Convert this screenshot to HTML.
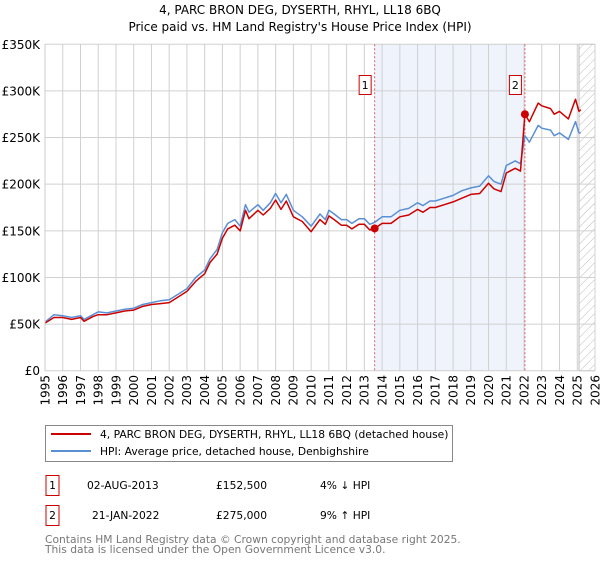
<!DOCTYPE html>
<html><head><meta charset="utf-8"><style>
body{margin:0;background:#fff;font-family:"DejaVu Sans","Liberation Sans",sans-serif;}
svg text{font-family:"DejaVu Sans","Liberation Sans",sans-serif;}
</style></head><body>
<svg id="chart" width="600" height="560" xmlns="http://www.w3.org/2000/svg">
<defs><pattern id="hatch" patternUnits="userSpaceOnUse" width="6" height="6" patternTransform="rotate(45)"><line x1="0" y1="0" x2="0" y2="6" stroke="#bbb" stroke-width="1"/></pattern></defs>
<text x="300" y="14" text-anchor="middle" font-size="12">4, PARC BRON DEG, DYSERTH, RHYL, LL18 6BQ</text>
<text x="300" y="31" text-anchor="middle" font-size="12">Price paid vs. HM Land Registry's House Price Index (HPI)</text>
<g id="grid"></g>
<g id="marks"></g>
<g id="legend">
<rect x="45.5" y="425.5" width="407" height="36" fill="#fff" stroke="#888"/>
<line x1="51" y1="434" x2="91" y2="434" stroke="#cc0000" stroke-width="2"/>
<text x="100" y="438" font-size="10.7">4, PARC BRON DEG, DYSERTH, RHYL, LL18 6BQ (detached house)</text>
<line x1="51" y1="451" x2="91" y2="451" stroke="#5b8fd4" stroke-width="2"/>
<text x="100" y="455" font-size="10.7">HPI: Average price, detached house, Denbighshire</text>
</g>
<g font-size="10.7">
<rect x="46" y="475.5" width="13" height="20" fill="none" stroke="#cc0000"/>
<text x="52.5" y="489" text-anchor="middle">1</text>
<text x="87" y="489">02-AUG-2013</text>
<text x="216" y="489">£152,500</text>
<text x="320" y="489">4% ↓ HPI</text>
</g>
<g font-size="10.7">
<rect x="46" y="505.5" width="13" height="20" fill="none" stroke="#cc0000"/>
<text x="52.5" y="519" text-anchor="middle">2</text>
<text x="92" y="519">21-JAN-2022</text>
<text x="216" y="519">£275,000</text>
<text x="320" y="519">9% ↑ HPI</text>
</g>
<text x="45" y="543" font-size="10.7" fill="#777">Contains HM Land Registry data © Crown copyright and database right 2025.</text>
<text x="45" y="553" font-size="10.7" fill="#777">This data is licensed under the Open Government Licence v3.0.</text>
</svg>
<script>
const years=[1995.0,1995.5,1996.0,1996.5,1997.0,1997.2,1997.7,1998.0,1998.5,1999.0,1999.5,2000.0,2000.5,2001.0,2001.5,2002.0,2002.5,2003.0,2003.5,2004.0,2004.3,2004.7,2005.0,2005.3,2005.7,2006.0,2006.3,2006.5,2007.0,2007.3,2007.7,2008.0,2008.3,2008.6,2009.0,2009.5,2010.0,2010.5,2010.8,2011.0,2011.3,2011.7,2012.0,2012.3,2012.7,2013.0,2013.3,2013.58,2014.0,2014.5,2015.0,2015.5,2016.0,2016.3,2016.7,2017.0,2017.5,2018.0,2018.5,2019.0,2019.5,2020.0,2020.3,2020.7,2021.0,2021.5,2021.8,2022.05,2022.3,2022.8,2023.0,2023.5,2023.7,2024.0,2024.5,2024.9,2025.1,2025.2];
const hpiValues=[52,60,59,57,59,55,60,63,62,64,66,67,71,73,75,76,82,88,100,108,120,130,148,158,162,155,178,170,178,172,180,190,180,189,172,165,155,168,162,172,168,162,162,158,163,163,157,159,165,165,172,174,180,177,182,182,185,188,193,196,198,209,203,200,220,225,222,252,245,263,260,258,252,255,248,267,255,255];
const priceValues=[51,57,57,55,57,53,58,60,60,62,64,65,69,71,72,73,79,85,96,104,116,125,142,152,156,150,172,163,172,167,174,183,173,182,165,160,149,162,157,166,162,156,156,152,157,157,151,152.5,158,158,165,167,173,170,175,175,178,181,185,189,190,201,195,192,212,217,214,275,267,287,284,281,275,278,270,291,278,280];
const saleYears=[2013.58,2022.05];
const salePrices=[152.5,275];
const saleLabels=["1","2"];
const yTicks=[0,50,100,150,200,250,300,350];
const yTickLabels=["£0","£50K","£100K","£150K","£200K","£250K","£300K","£350K"];
const xTicks=[1995,1996,1997,1998,1999,2000,2001,2002,2003,2004,2005,2006,2007,2008,2009,2010,2011,2012,2013,2014,2015,2016,2017,2018,2019,2020,2021,2022,2023,2024,2025,2026];

const NS="http://www.w3.org/2000/svg";
const L=45,R=595,T=44.3,B=370.7;
const x=y=>L+(y-1995)*(R-L)/31;
const yv=v=>B-v*(B-T)/350;
function mk(tag,attrs,parent){const e=document.createElementNS(NS,tag);for(const k in attrs)e.setAttribute(k,attrs[k]);parent.appendChild(e);return e;}
const grid=document.getElementById('grid'),marks=document.getElementById('marks');

const band=mk('rect',{x:x(saleYears[0]),y:T,width:x(saleYears[1])-x(saleYears[0]),height:B-T,fill:'#eef3fc'},grid);


const hatch=mk('rect',{x:x(2025.1),y:T,width:R-x(2025.1),height:B-T,fill:'url(#hatch)',stroke:'#bbb'},grid);



yTicks.forEach((t,i)=>{
 const g=mk('line',{x1:L,x2:R,y1:yv(t),y2:yv(t),stroke:'#d0d0d0','stroke-width':1},grid);
 
 
 const tx=mk('text',{x:40,y:yv(t)+4.5,'text-anchor':'end','font-size':12},grid);
 tx.textContent=yTickLabels[i];
 
 
});
xTicks.forEach(t=>{
 const g=mk('line',{x1:x(t),x2:x(t),y1:T,y2:B,stroke:'#d0d0d0','stroke-width':1},grid);
 
 
 const tx=mk('text',{x:0,y:0,'text-anchor':'end','font-size':12,transform:`translate(${x(t)+4.3},375) rotate(-90)`},grid);
 tx.textContent=String(t);
 
 
});

saleYears.forEach((s,i)=>{
 const vl=mk('line',{x1:x(s),x2:x(s),y1:T,y2:B,stroke:'#e06060','stroke-width':1,'stroke-dasharray':'2,2'},marks);
 
 
 const bx=mk('rect',{x:x(s)-15.5,y:75.5,width:12,height:19,fill:'#fff',stroke:'#cc0000'},marks);
 
 
 const bt=mk('text',{x:x(s)-9.5,y:89,'text-anchor':'middle','font-size':11},marks);
 bt.textContent=saleLabels[i];
 
 
});

const pts=(arr)=>arr.map((v,i)=>x(years[i]).toFixed(1)+','+yv(v).toFixed(1)).join(' ');
const hl=mk('polyline',{points:pts(hpiValues),fill:'none',stroke:'#5b8fd4','stroke-width':1.5,'stroke-linejoin':'round'},marks);


const pl=mk('polyline',{points:pts(priceValues),fill:'none',stroke:'#cc0000','stroke-width':1.5,'stroke-linejoin':'round'},marks);


saleYears.forEach((s,i)=>{
 const c=mk('circle',{cx:x(s),cy:yv(salePrices[i]),r:4,fill:'#cc0000'},marks);
 
 
});
const fr=mk('line',{x1:L,x2:L,y1:T,y2:B,stroke:'#ccc'},marks);


</script>
</body></html>
